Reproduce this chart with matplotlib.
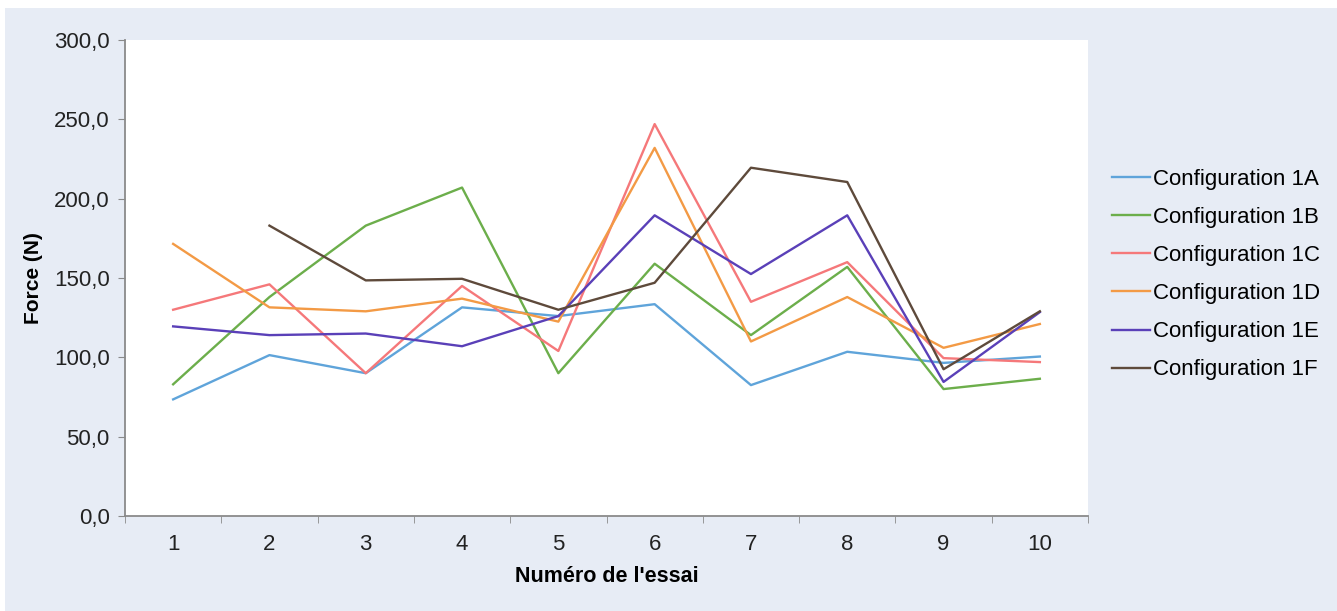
import matplotlib
matplotlib.use("Agg")
import matplotlib.pyplot as plt
from matplotlib.patches import Rectangle
import numpy as np

plt.rcParams['font.family'] = ['Liberation Sans', 'DejaVu Sans']

essais = [1, 2, 3, 4, 5, 6, 7, 8, 9, 10]
config_1A = [73.5, 101.4, 90.0, 131.5, 126.0, 133.5, 82.5, 103.5, 96.5, 100.5]
config_1B = [83.0, 138.0, 183.0, 207.0, 90.0, 159.0, 114.0, 157.0, 80.0, 86.5]
config_1C = [130.0, 146.0, 90.0, 145.0, 104.0, 247.0, 135.0, 160.0, 99.5, 97.0]
config_1D = [171.5, 131.5, 129.0, 137.0, 122.5, 232.0, 110.0, 138.0, 106.0, 121.0]
config_1E = [119.5, 114.0, 115.0, 107.0, 126.0, 189.5, 152.5, 189.5, 84.5, 128.5]
config_1F = [None, 183.0, 148.5, 149.5, 130.0, 147.0, 219.5, 210.5, 92.5, 129.0]

series = [
    ("Configuration 1A", config_1A, "#5fa4da"),
    ("Configuration 1B", config_1B, "#6cae4b"),
    ("Configuration 1C", config_1C, "#f5787a"),
    ("Configuration 1D", config_1D, "#f39a45"),
    ("Configuration 1E", config_1E, "#5a40b8"),
    ("Configuration 1F", config_1F, "#5e4a3b"),
]

W, H = 1337, 611
fig = plt.figure(figsize=(W / 100, H / 100), dpi=100)
fig.patch.set_facecolor("white")
fig.patches.append(Rectangle((5 / W, 0), 1 - 5 / W, 1 - 8 / H, transform=fig.transFigure,
                             facecolor="#e7ecf5", edgecolor="none", zorder=-10))

ax = fig.add_axes([125 / W, 1 - 516 / H, (1088 - 125) / W, (516 - 40) / H])
ax.set_facecolor("white")

for label, vals, color in series:
    y = np.array([np.nan if v is None else v for v in vals], dtype=float)
    ax.plot(essais, y, color=color, lw=1.7, label=label)

ax.set_xlim(0.5, 10.5)
ax.set_ylim(0, 300)
ax.set_yticks(np.arange(0, 301, 50))
ax.set_yticklabels([f"{v:.1f}".replace(".", ",") for v in np.arange(0, 301, 50)])
ax.set_xticks(essais)
ax.set_xticks(np.arange(0.5, 10.6, 1), minor=True)
ax.tick_params(axis="x", which="major", length=0, pad=13, labelsize=16, colors="#222222")
ax.tick_params(axis="x", which="minor", length=5, color="#8a8a8a", direction="out")
ax.tick_params(axis="y", length=5, direction="out", labelsize=16, pad=6,
               colors="#8a8a8a", labelcolor="#222222")

for s in ["top", "right"]:
    ax.spines[s].set_visible(False)
for s in ["left", "bottom"]:
    ax.spines[s].set_color("#8a8a8a")
    ax.spines[s].set_linewidth(1.3)

ax.set_xlabel("Numéro de l'essai", fontsize=15.5, fontweight="bold", labelpad=8)
ax.set_ylabel("Force (N)", fontsize=15, fontweight="bold", labelpad=8)

leg = ax.legend(loc="upper left", bbox_to_anchor=(1103 / W, 1 - 160 / H),
                bbox_transform=fig.transFigure, frameon=False, fontsize=16,
                handlelength=1.7, handletextpad=0.14, labelspacing=0.77, borderaxespad=0)

fig.savefig("out.png", dpi=100, facecolor=fig.get_facecolor())
